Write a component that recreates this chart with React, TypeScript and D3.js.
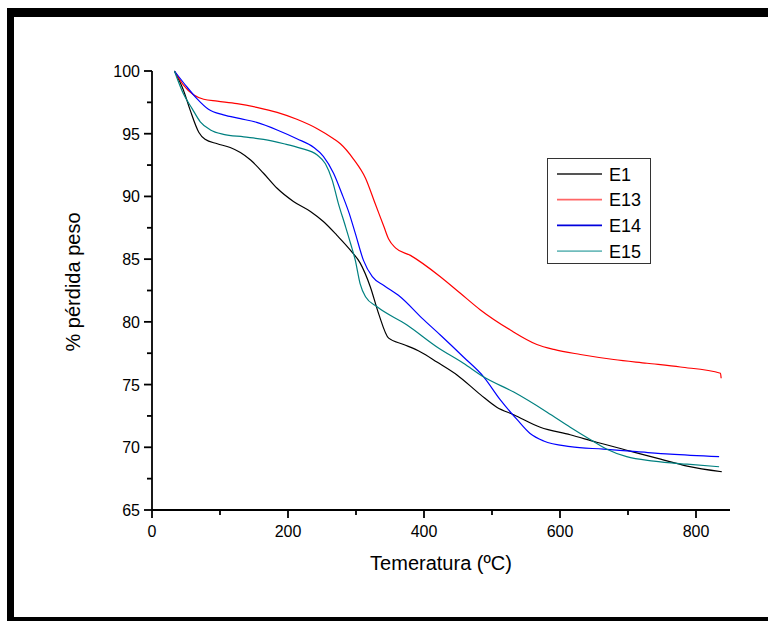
import React from 'react'
import * as d3 from 'd3'

// series (temperature in ºC, weight in %)
const e1Temp = [33, 46, 56, 69, 78, 96, 115, 130, 145, 164, 184, 208, 233, 252, 272, 292, 306, 321, 333, 348, 370, 395, 419, 449, 483, 507, 532, 571, 615, 654, 703, 748, 787, 838]
const e1Mass = [100, 98.5, 96.9, 95.1, 94.55, 94.2, 93.9, 93.5, 92.9, 91.85, 90.65, 89.6, 88.8, 88.0, 86.9, 85.7, 84.7, 82.8, 80.7, 78.7, 78.2, 77.6, 76.8, 75.75, 74.2, 73.2, 72.6, 71.6, 71.0, 70.4, 69.7, 69.05, 68.5, 68.05]

const e13Temp = [33, 46, 61, 76, 96, 125, 154, 184, 213, 243, 267, 277, 296, 314, 328, 341, 348, 358, 380, 424, 453, 483, 527, 566, 591, 630, 679, 728, 777, 836, 837]
const e13Mass = [100, 98.9, 98.1, 97.75, 97.6, 97.4, 97.1, 96.7, 96.15, 95.4, 94.6, 94.2, 93.0, 91.45, 89.45, 87.6, 86.6, 85.9, 85.3, 83.6, 82.3, 80.95, 79.35, 78.2, 77.8, 77.4, 77.0, 76.7, 76.4, 75.9, 75.5]

const e14Temp = [33, 51, 66, 83, 105, 130, 154, 184, 213, 238, 252, 267, 279, 290, 299, 311, 324, 341, 365, 397, 424, 458, 488, 512, 537, 556, 576, 615, 664, 713, 762, 834]
const e14Mass = [100, 98.75, 97.8, 96.95, 96.5, 96.2, 95.9, 95.3, 94.6, 93.9, 93.2, 91.85, 90.25, 88.65, 87.05, 84.9, 83.6, 82.9, 82.0, 80.3, 78.95, 77.2, 75.6, 73.8, 72.2, 71.1, 70.5, 70.05, 69.85, 69.65, 69.45, 69.25]

const e15Temp = [33, 46, 59, 71, 86, 105, 135, 164, 194, 218, 243, 255, 265, 274, 284, 292, 299, 306, 314, 331, 375, 419, 458, 488, 532, 581, 615, 645, 669, 698, 738, 787, 834]
const e15Mass = [100, 98.2, 97.0, 95.95, 95.3, 94.95, 94.75, 94.55, 94.2, 93.85, 93.3, 92.6, 91.3, 89.45, 87.7, 86.25, 84.9, 83.05, 82.0, 81.2, 79.75, 78.0, 76.7, 75.6, 74.4, 72.8, 71.6, 70.6, 69.85, 69.25, 68.9, 68.65, 68.45]

const seriesNames = ['E1', 'E13', 'E14', 'E15']
const seriesColors = ['#000000', '#ff0000', '#0000ff', '#008080']
const legendColors = ['#555555', '#ff6666', '#0000dd', '#70bcbc']

const xMajorTicks = [0, 200, 400, 600, 800]
const xMinorTicks = [100, 300, 500, 700]
const yMajorTicks = [65, 70, 75, 80, 85, 90, 95, 100]
const yMinorTicks = [67.5, 72.5, 77.5, 82.5, 87.5, 92.5, 97.5]

const W = 768
const H = 621
const font = '"Liberation Sans", Arial, sans-serif'

const App = () => {
  const x = d3.scaleLinear().domain([0, 850]).range([152, 730])
  const y = d3.scaleLinear().domain([65, 100]).range([510, 71])

  const series = [
    e1Temp.map((t, i) => [t, e1Mass[i]]),
    e13Temp.map((t, i) => [t, e13Mass[i]]),
    e14Temp.map((t, i) => [t, e14Mass[i]]),
    e15Temp.map((t, i) => [t, e15Mass[i]]),
  ]

  const line = d3.line<number[]>()
    .x(d => x(d[0]))
    .y(d => y(d[1]))
    .curve(d3.curveMonotoneX)

  const x0 = x(0)
  const y0 = y(65)

  return (
    <svg width={W} height={H} style={{ position: 'absolute', left: 0, top: 0, background: '#fff' }}>
      {/* black frame */}
      <rect x={7} y={8} width={7} height={613} fill="#000" />
      <rect x={7} y={8} width={761} height={9} fill="#000" />
      <rect x={7} y={617} width={761} height={4} fill="#000" />

      {/* curves */}
      {series.map((s, i) => (
        <path key={seriesNames[i]} d={line(s) || ''} fill="none" stroke={seriesColors[i]} strokeWidth={1.2} />
      ))}

      {/* axes */}
      <g stroke="#000" strokeWidth={1.8}>
        <line x1={x0} x2={x0} y1={y(100)} y2={y0} />
        <line x1={x0} x2={x(850)} y1={y0} y2={y0} />
        {xMajorTicks.map(t => <line key={t} x1={x(t)} x2={x(t)} y1={y0} y2={y0 + 8} />)}
        {xMinorTicks.map(t => <line key={t} x1={x(t)} x2={x(t)} y1={y0} y2={y0 + 5} />)}
        {yMajorTicks.map(t => <line key={t} x1={x0 - 8} x2={x0} y1={y(t)} y2={y(t)} />)}
        {yMinorTicks.map(t => <line key={t} x1={x0 - 5} x2={x0} y1={y(t)} y2={y(t)} />)}
      </g>

      <g fontFamily={font} fontSize={16} fill="#000">
        {xMajorTicks.map(t => (
          <text key={t} x={x(t)} y={y0 + 27} textAnchor="middle">{t}</text>
        ))}
        {yMajorTicks.map(t => (
          <text key={t} x={140} y={y(t) + 6} textAnchor="end">{t}</text>
        ))}
      </g>

      <text x={441} y={570} textAnchor="middle" fontFamily={font} fontSize={20}>Temeratura (ºC)</text>
      <text transform="translate(80,282) rotate(-90)" textAnchor="middle" fontFamily={font} fontSize={20}>% pérdida peso</text>

      {/* legend */}
      <rect x={547.5} y={158.5} width={103} height={105} fill="#fff" stroke="#333" strokeWidth={1} />
      {seriesNames.map((n, i) => (
        <g key={n}>
          <line x1={557} x2={602} y1={174 + i * 25.7} y2={174 + i * 25.7} stroke={legendColors[i]} strokeWidth={1.8} />
          <text x={609} y={174 + i * 25.7 + 6.5} fontFamily={font} fontSize={18}>{n}</text>
        </g>
      ))}
    </svg>
  )
}

export default App
